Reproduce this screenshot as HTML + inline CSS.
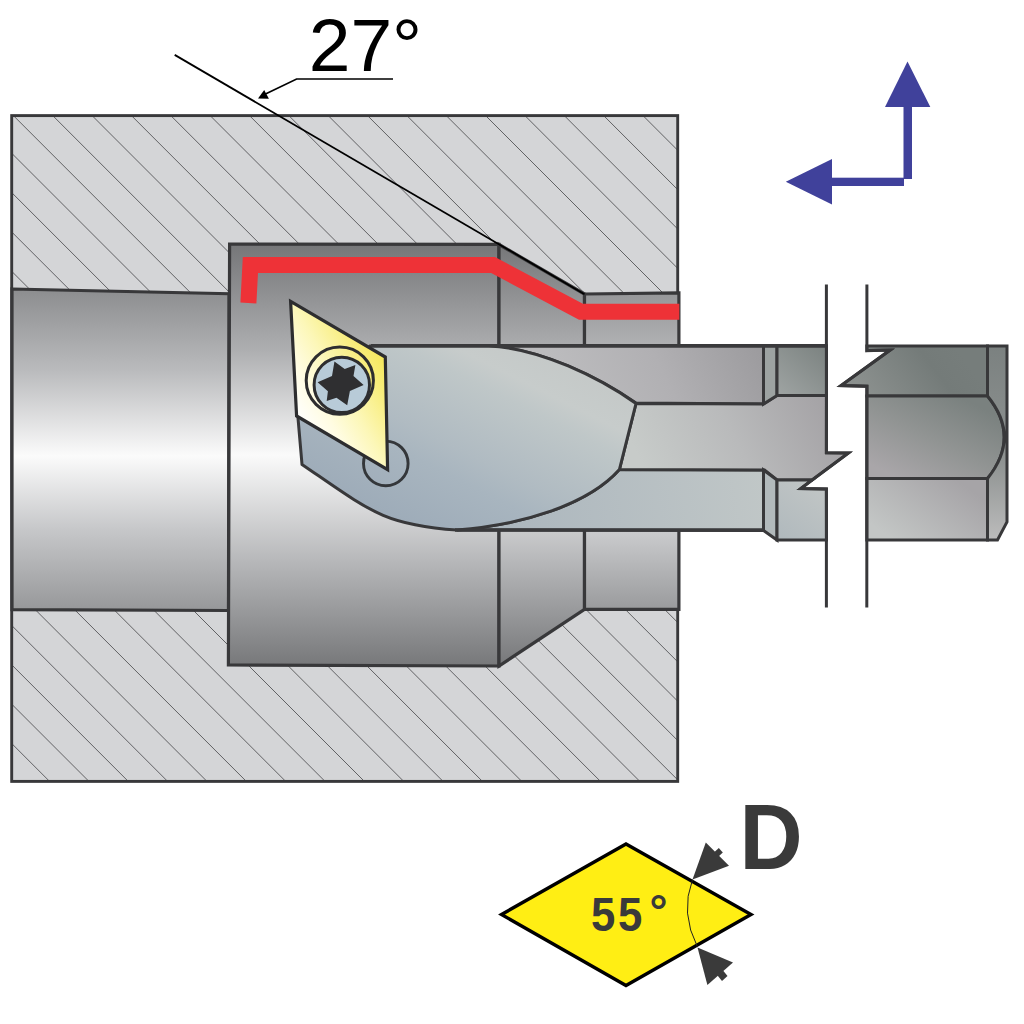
<!DOCTYPE html>
<html>
<head>
<meta charset="utf-8">
<title>Boring bar 27° – D 55°</title>
<style>
html,body{margin:0;padding:0;background:#ffffff;}
body{width:1024px;height:1024px;overflow:hidden;font-family:"Liberation Sans",sans-serif;}
svg{display:block;}
text{font-family:"Liberation Sans",sans-serif;}
</style>
</head>
<body>
<svg width="1024" height="1024" viewBox="0 0 1024 1024">
<defs>
  <!-- bore gradients -->
  <linearGradient id="gSmall" x1="0" y1="289" x2="0" y2="610" gradientUnits="userSpaceOnUse">
    <stop offset="0" stop-color="#8c8d8f"/>
    <stop offset="0.25" stop-color="#b9babc"/>
    <stop offset="0.52" stop-color="#fbfbfb"/>
    <stop offset="0.75" stop-color="#c6c7c9"/>
    <stop offset="1" stop-color="#97989a"/>
  </linearGradient>
  <linearGradient id="gLarge" x1="0" y1="244" x2="0" y2="666" gradientUnits="userSpaceOnUse">
    <stop offset="0" stop-color="#757678"/>
    <stop offset="0.25" stop-color="#adaeb0"/>
    <stop offset="0.5" stop-color="#fafafa"/>
    <stop offset="0.75" stop-color="#b7b8ba"/>
    <stop offset="1" stop-color="#77787a"/>
  </linearGradient>
  <linearGradient id="gExit" x1="0" y1="294" x2="0" y2="609" gradientUnits="userSpaceOnUse">
    <stop offset="0" stop-color="#969799"/>
    <stop offset="0.25" stop-color="#bebfc1"/>
    <stop offset="0.52" stop-color="#f2f2f2"/>
    <stop offset="0.75" stop-color="#cbccce"/>
    <stop offset="1" stop-color="#9a9b9d"/>
  </linearGradient>
  <!-- tool gradients -->
  <linearGradient id="gHead" x1="440" y1="540" x2="540" y2="340" gradientUnits="userSpaceOnUse">
    <stop offset="0" stop-color="#9eacb9"/>
    <stop offset="0.28" stop-color="#a8b5bf"/>
    <stop offset="0.40" stop-color="#b0bbc2"/>
    <stop offset="0.60" stop-color="#bac3c6"/>
    <stop offset="0.70" stop-color="#bfc7c8"/>
    <stop offset="0.80" stop-color="#c7cccb"/>
    <stop offset="1" stop-color="#c4c8c7"/>
  </linearGradient>
  <linearGradient id="gUpper" x1="580" y1="420" x2="750" y2="335" gradientUnits="userSpaceOnUse">
    <stop offset="0" stop-color="#bcbcbe"/>
    <stop offset="0.5" stop-color="#b1b0b3"/>
    <stop offset="1" stop-color="#9d9c9f"/>
  </linearGradient>
  <linearGradient id="gMid" x1="650" y1="480" x2="820" y2="395" gradientUnits="userSpaceOnUse">
    <stop offset="0" stop-color="#c7cbc9"/>
    <stop offset="0.5" stop-color="#b9babb"/>
    <stop offset="1" stop-color="#a5a3a6"/>
  </linearGradient>
  <linearGradient id="gLower" x1="480" y1="530" x2="800" y2="480" gradientUnits="userSpaceOnUse">
    <stop offset="0" stop-color="#aab5bd"/>
    <stop offset="1" stop-color="#c3c9c8"/>
  </linearGradient>
  <linearGradient id="gStepT" x1="780" y1="400" x2="826" y2="346" gradientUnits="userSpaceOnUse">
    <stop offset="0" stop-color="#a0a5a4"/>
    <stop offset="1" stop-color="#7b8280"/>
  </linearGradient>
  <linearGradient id="gStepB" x1="780" y1="540" x2="826" y2="480" gradientUnits="userSpaceOnUse">
    <stop offset="0" stop-color="#b0b9bd"/>
    <stop offset="1" stop-color="#c3c7c6"/>
  </linearGradient>
  <linearGradient id="gR1" x1="870" y1="400" x2="950" y2="340" gradientUnits="userSpaceOnUse">
    <stop offset="0" stop-color="#8b908e"/>
    <stop offset="0.7" stop-color="#747b79"/>
    <stop offset="1" stop-color="#767d7b"/>
  </linearGradient>
  <linearGradient id="gR2" x1="905" y1="482" x2="950" y2="392" gradientUnits="userSpaceOnUse">
    <stop offset="0" stop-color="#a9a6a9"/>
    <stop offset="0.5" stop-color="#919493"/>
    <stop offset="1" stop-color="#7a817f"/>
  </linearGradient>
  <linearGradient id="gR3" x1="900" y1="545" x2="950" y2="475" gradientUnits="userSpaceOnUse">
    <stop offset="0" stop-color="#c3c6c5"/>
    <stop offset="1" stop-color="#a6a4a7"/>
  </linearGradient>
  <linearGradient id="gR4" x1="0" y1="346" x2="0" y2="540" gradientUnits="userSpaceOnUse">
    <stop offset="0" stop-color="#7b8180"/>
    <stop offset="0.6" stop-color="#8f9392"/>
    <stop offset="1" stop-color="#bcbcbc"/>
  </linearGradient>
  <linearGradient id="gIns" x1="296" y1="416" x2="389" y2="362" gradientUnits="userSpaceOnUse">
    <stop offset="0" stop-color="#ffffff"/>
    <stop offset="0.25" stop-color="#fffce2"/>
    <stop offset="0.5" stop-color="#fcf7b8"/>
    <stop offset="0.8" stop-color="#f8ed7c"/>
    <stop offset="1" stop-color="#f5e758"/>
  </linearGradient>
</defs>

<rect width="1024" height="1024" fill="#ffffff"/>

<!-- workpiece -->
<clipPath id="wpClip"><rect x="11.7" y="115.6" width="666" height="665.8"/></clipPath>
<rect x="11.7" y="115.6" width="666" height="665.8" fill="#d4d5d7"/>
<g clip-path="url(#wpClip)" stroke="#444446" stroke-width="0.8">
<line x1="-671.15" y1="100" x2="28.85" y2="800"/>
<line x1="-631.80" y1="100" x2="68.20" y2="800"/>
<line x1="-592.45" y1="100" x2="107.55" y2="800"/>
<line x1="-553.10" y1="100" x2="146.90" y2="800"/>
<line x1="-513.75" y1="100" x2="186.25" y2="800"/>
<line x1="-474.40" y1="100" x2="225.60" y2="800"/>
<line x1="-435.05" y1="100" x2="264.95" y2="800"/>
<line x1="-395.70" y1="100" x2="304.30" y2="800"/>
<line x1="-356.35" y1="100" x2="343.65" y2="800"/>
<line x1="-317.00" y1="100" x2="383.00" y2="800"/>
<line x1="-277.65" y1="100" x2="422.35" y2="800"/>
<line x1="-238.30" y1="100" x2="461.70" y2="800"/>
<line x1="-198.95" y1="100" x2="501.05" y2="800"/>
<line x1="-159.60" y1="100" x2="540.40" y2="800"/>
<line x1="-120.25" y1="100" x2="579.75" y2="800"/>
<line x1="-80.90" y1="100" x2="619.10" y2="800"/>
<line x1="-41.55" y1="100" x2="658.45" y2="800"/>
<line x1="-2.20" y1="100" x2="697.80" y2="800"/>
<line x1="37.15" y1="100" x2="737.15" y2="800"/>
<line x1="76.50" y1="100" x2="776.50" y2="800"/>
<line x1="115.85" y1="100" x2="815.85" y2="800"/>
<line x1="155.20" y1="100" x2="855.20" y2="800"/>
<line x1="194.55" y1="100" x2="894.55" y2="800"/>
<line x1="233.90" y1="100" x2="933.90" y2="800"/>
<line x1="273.25" y1="100" x2="973.25" y2="800"/>
<line x1="312.60" y1="100" x2="1012.60" y2="800"/>
<line x1="351.95" y1="100" x2="1051.95" y2="800"/>
<line x1="391.30" y1="100" x2="1091.30" y2="800"/>
<line x1="430.65" y1="100" x2="1130.65" y2="800"/>
<line x1="470.00" y1="100" x2="1170.00" y2="800"/>
<line x1="509.35" y1="100" x2="1209.35" y2="800"/>
<line x1="548.70" y1="100" x2="1248.70" y2="800"/>
<line x1="588.05" y1="100" x2="1288.05" y2="800"/>
<line x1="627.40" y1="100" x2="1327.40" y2="800"/>
<line x1="666.75" y1="100" x2="1366.75" y2="800"/>
<line x1="706.10" y1="100" x2="1406.10" y2="800"/>
<line x1="745.45" y1="100" x2="1445.45" y2="800"/>
<line x1="784.80" y1="100" x2="1484.80" y2="800"/>
</g>
<rect x="11.7" y="115.6" width="666" height="665.8" fill="none" stroke="#38383a" stroke-width="2.9"/>

<!-- bores -->
<g stroke="#38383a" stroke-width="3.2" stroke-linejoin="miter">
  <path d="M12,289 L229,293.7 L228.5,610.5 L12,609.6 Z" fill="url(#gSmall)"/>
  <path d="M229.6,244 L499,244.3 L499,666 L228.4,665 Z" fill="url(#gLarge)"/>
  <path d="M499,244.5 L584.5,294 L584.5,609.3 L499,666 Z" fill="url(#gLarge)"/>
  <path d="M584.5,294 L678.9,292.8 L678.9,609.3 L584.5,609.3 Z" fill="url(#gExit)"/>
</g>

<!-- angle reference line -->
<line x1="174.7" y1="54.9" x2="584.5" y2="294.2" stroke="#000" stroke-width="1.8"/>

<!-- red cut path -->
<path d="M248.4,303 L250.4,265 L493,265 L581,311.8 L679.3,311.8" fill="none" stroke="#ee3237" stroke-width="16" stroke-linejoin="miter"/>

<!-- tool -->
<g stroke="#38383a" stroke-width="3" stroke-linejoin="miter">
  <!-- upper shank -->
  <path d="M489,346 L763.5,346 L763.5,404 L636,403 C600,378 540,348 489,346 Z" fill="url(#gUpper)"/>
  <!-- lower shank -->
  <path d="M458,530 L763.5,530.5 L763.5,470 L619.4,469.6 C588,505 522,525 457,530 Z" fill="url(#gLower)"/>
  <!-- mid shank -->
  <path d="M636,403.5 L763.5,404 L777,395.5 L826.5,395.5 L826.4,452.7 L848.5,453 L812,480 L777,480 L764.5,470 L619.4,469.6 Z" fill="url(#gMid)"/>
  <!-- head -->
  <path d="M370,346 L489,346 C540,348 600,378 636,403.5 L619.4,469.6 C588,505 522,525 457,530 C384,525 370,511 302,464.4 L298,418 Z" fill="url(#gHead)"/>
  <!-- step chamfers + faces (left piece) -->
  <path d="M763.5,346 L777,346 L777,395.5 L763.5,404 Z" fill="#9da3a2"/>
  <path d="M777,346 L826.5,346 L826.5,395.5 L777,395.5 Z" fill="url(#gStepT)"/>
  <path d="M763.5,470 L777,480 L777,540 L763.5,530.5 Z" fill="#b2babc"/>
  <path d="M777,480 L812,480 L800.8,488.6 L826.4,489 L826.5,540 L777,540 Z" fill="url(#gStepB)"/>
  <!-- right piece -->
  <path d="M866.9,350.6 L890.2,350 L841,385.6 L866.9,386.2 L866.9,396 L987.5,396 L987.5,346 L866.8,346 Z" fill="url(#gR1)"/>
  <path d="M866.8,396 L987.5,396 Q1021,437 987.5,478.5 L866.8,478.5 Z" fill="url(#gR2)"/>
  <path d="M866.8,478.5 L987.5,478.5 L987.5,540 L866.8,540 Z" fill="url(#gR3)"/>
  <path d="M987.5,346 L1007,346 L1007,522 L997.5,540 L987.5,540 L987.5,478.5 Q1021,437 987.5,396 Z" fill="url(#gR4)"/>
</g>

<!-- heavier top / bottom tool edges -->
<g stroke="#3a3a3c" stroke-width="3.6" fill="none">
  <line x1="371" y1="345.8" x2="827.5" y2="345.8"/>
  <line x1="455" y1="530" x2="764" y2="530"/>
</g>

<!-- break lines -->
<g fill="none" stroke="#38383a" stroke-width="3" stroke-linejoin="miter">
  <path d="M826.4,284.6 L826.4,452.7 L848.5,453 L800.8,488.6 L826.4,489 L826.4,607.6"/>
  <path d="M866.9,284.6 L866.9,350.6 L890.2,350 L841,385.6 L866.9,386.2 L866.8,607.5"/>
</g>

<!-- relief circle under insert -->
<circle cx="385.8" cy="463.4" r="22.3" fill="none" stroke="#34373a" stroke-width="2.9"/>

<!-- insert -->
<path d="M290.6,301.3 L385.3,357 L387.6,469.6 L296.6,416 Z" fill="url(#gIns)" stroke="#2d2d2f" stroke-width="3.2" stroke-linejoin="miter"/>
<circle cx="339.8" cy="380.6" r="33.6" fill="none" stroke="#2d2d2f" stroke-width="3"/>
<circle cx="341.8" cy="384.9" r="27.7" fill="#b8cbd8" stroke="#2d2d2f" stroke-width="3"/>
<polygon fill="#2f2f31" points="334.45,361.5 344.7,369.1 355.4,365.0 353.5,376.1 363.6,385.1 349.9,391.0 347.2,405.2 336.5,397.8 326.7,401.1 327.9,391.3 317.6,382.2 332.0,376.1"/>

<!-- 27° label -->
<text x="308.7" y="71.3" font-size="75" fill="#000">27°</text>
<path d="M393,79 L296.6,79 L265.5,93.9" fill="none" stroke="#000" stroke-width="1.7"/>
<path d="M258,98.5 L264.2,90 L268.9,98.8 Z" fill="#000"/>

<!-- feed arrows -->
<g fill="#40419b">
  <path d="M907.5,61.5 L930.3,107 L885,107 Z"/>
  <rect x="903.5" y="106" width="8.5" height="73"/>
  <path d="M785.8,181.7 L832,159 L832,204.6 Z"/>
  <rect x="831" y="177.7" width="73" height="8.3"/>
</g>

<!-- insert shape symbol -->
<path d="M501.5,914.5 L626,844 L751,914.5 L626,985.5 Z" fill="#ffee14" stroke="#000" stroke-width="3.4" stroke-linejoin="miter"/>
<path d="M692.5,879.5 Q680,913 697.5,947" fill="none" stroke="#222" stroke-width="1"/>
<g fill="#3a3a3a">
  <path d="M692.5,879.5 L705.8,842.5 L729,865.7 Z"/>
  <path d="M714.5,852 L718.8,848 L722.8,852.6 L718.5,856.5 Z"/>
  <path d="M697.5,947.5 L733,962.6 L707.4,985 Z"/>
  <path d="M717.5,975.5 L723,970.5 L727.5,976 L722,981 Z"/>
</g>
<text transform="translate(591.1 931.2) scale(0.9 1)" font-size="48.6" font-weight="bold" fill="#3a3a3a">5</text>
<text transform="translate(618 931.2) scale(0.9 1)" font-size="48.6" font-weight="bold" fill="#3a3a3a">5</text>
<text x="649.6" y="925.8" font-size="45" font-weight="bold" fill="#3a3a3a">°</text>
<text transform="translate(739.4 868.9) scale(0.937 1)" font-size="93.3" font-weight="bold" fill="#3a3a3a">D</text>
</svg>
</body>
</html>
